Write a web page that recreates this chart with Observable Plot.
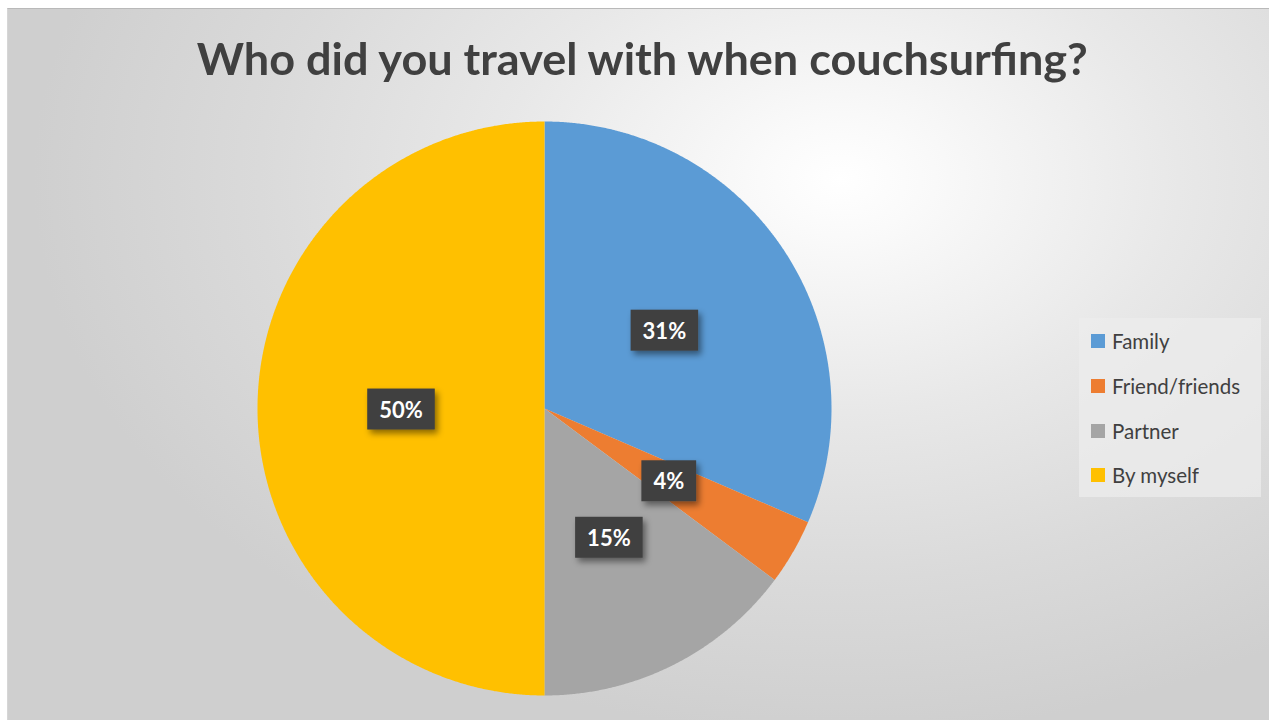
<!DOCTYPE html>
<html>
<head>
<meta charset="utf-8">
<script src="https://cdn.jsdelivr.net/npm/d3@7"></script>
<script src="https://cdn.jsdelivr.net/npm/@observablehq/plot@0.6"></script>
<style>
  html, body { margin: 0; padding: 0; background: #ffffff; }
  #wrap { position: relative; width: 1269px; height: 720px; overflow: hidden; font-family: Lato, "Open Sans", sans-serif; }
  #bg { position: absolute; left: 7px; top: 8px; right: 0; bottom: 0;
        border-top: 1px solid #b9b9b9; border-left: 1px solid #d6d6d6;
        background: radial-gradient(ellipse 64% 78% at 66% 24%, #ffffff 0%, #fafafa 10%, #e8e8e8 42%, #dadada 72%, #cfcfcf 100%); }
  #title { position: absolute; left: 12px; width: 1261px; top: 36px; text-align: center; line-height: 1;
           font-size: 44px; font-weight: 700; color: #404040; white-space: nowrap; }
  #title span { display: inline-block; transform-origin: center; }
  #chart { position: absolute; left: 0; top: 0; }
  #legend { position: absolute; left: 1079px; top: 318px; width: 182px; height: 179px;
            background: rgba(236,236,236,0.75); box-sizing: border-box; padding: 1px 0 0 12px; }
  #legend .lg-swatch { height: 44.7px !important; display: flex !important; align-items: center !important;
            font-family: Lato, "Open Sans", sans-serif; font-size: 20.5px; color: #404040; padding: 0 !important; margin: 0 !important; }
  #legend .lg-swatch svg { margin-right: 7px !important; }
  #legend .lg-swatches { margin: 0 !important; min-height: 0 !important; }
</style>
</head>
<body>
<div id="wrap">
  <div id="bg"></div>
  <div id="title"><span>Who did you travel with when couchsurfing?</span></div>
  <div id="chart"></div>
  <div id="legend"></div>
</div>
<script>
const categories = ["Family", "Friend/friends", "Partner", "By myself"];
const counts = [17, 2, 8, 27];           // respondents; shown as rounded shares 31%, 4%, 15%, 50%
const colors = ["#5B9BD5", "#ED7D31", "#A5A5A5", "#FFC000"];

const total = d3.sum(counts);
const arcs = d3.pie().sort(null).value(d => d.value)(categories.map((label, i) => ({label, value: counts[i]})));

// polygon outline of each slice (angles clockwise from 12 o'clock)
const slicePts = [];
for (const a of arcs) {
  const n = Math.max(2, Math.ceil((a.endAngle - a.startAngle) / 0.005));
  slicePts.push({label: a.data.label, x: 0, y: 0});
  for (let k = 0; k <= n; k++) {
    const t = a.startAngle + (a.endAngle - a.startAngle) * k / n;
    slicePts.push({label: a.data.label, x: Math.sin(t), y: Math.cos(t)});
  }
  slicePts.push({label: a.data.label, x: 0, y: 0});
}
const labelPts = arcs.map(a => {
  const m = (a.startAngle + a.endAngle) / 2;
  return {label: a.data.label, text: Math.round(100 * a.data.value / total) + "%", x: 0.5 * Math.sin(m), y: 0.5 * Math.cos(m)};
});

const colorScale = {domain: categories, range: colors};

const plot = Plot.plot({
  width: 1269, height: 720,
  marginLeft: 257, marginRight: 438, marginTop: 121, marginBottom: 25,
  x: {domain: [-1, 1], axis: null},
  y: {domain: [-1, 1], axis: null},
  color: colorScale,
  style: {background: "transparent", overflow: "visible"},
  marks: [
    Plot.line(slicePts, {x: "x", y: "y", z: "label", fill: "label", stroke: "none", curve: "linear"}),
    Plot.text(labelPts, {x: "x", y: "y", dy: 2, text: "text", fill: "white", fontWeight: 700, fontSize: 22,
                         fontFamily: "Lato, 'Open Sans', sans-serif", className: "pielabels"})
  ]
});
document.getElementById("chart").appendChild(plot);

// shadow filter + label boxes behind text
const svg = d3.select(plot);
const defs = svg.insert("defs", ":first-child");
const f = defs.append("filter").attr("id", "lblshadow").attr("x", "-30%").attr("y", "-30%").attr("width", "170%").attr("height", "170%");
f.append("feDropShadow").attr("dx", 3).attr("dy", 4).attr("stdDeviation", 3).attr("flood-color", "#000").attr("flood-opacity", 0.45);
svg.selectAll(".pielabels text").each(function() {
  const bb = this.getBBox();
  const cy = bb.y + bb.height / 2;
  const padX = 12, h = 41;
  const r = d3.select(this.parentNode).insert("rect", () => this)
    .attr("x", bb.x - padX).attr("y", cy - h / 2)
    .attr("width", bb.width + 2 * padX).attr("height", h)
    .attr("fill", "#404040").attr("filter", "url(#lblshadow)");
  const tr = this.getAttribute("transform");
  if (tr) r.attr("transform", tr);
});

// legend
const lg = Plot.legend({color: colorScale, legend: "swatches", columns: 1, swatchSize: 14, className: "lg"});
document.getElementById("legend").appendChild(lg);

// title width fit
const span = document.querySelector("#title span");
const w = span.getBoundingClientRect().width;
span.style.transform = `scaleX(${891 / w})`;
</script>
</body>
</html>
